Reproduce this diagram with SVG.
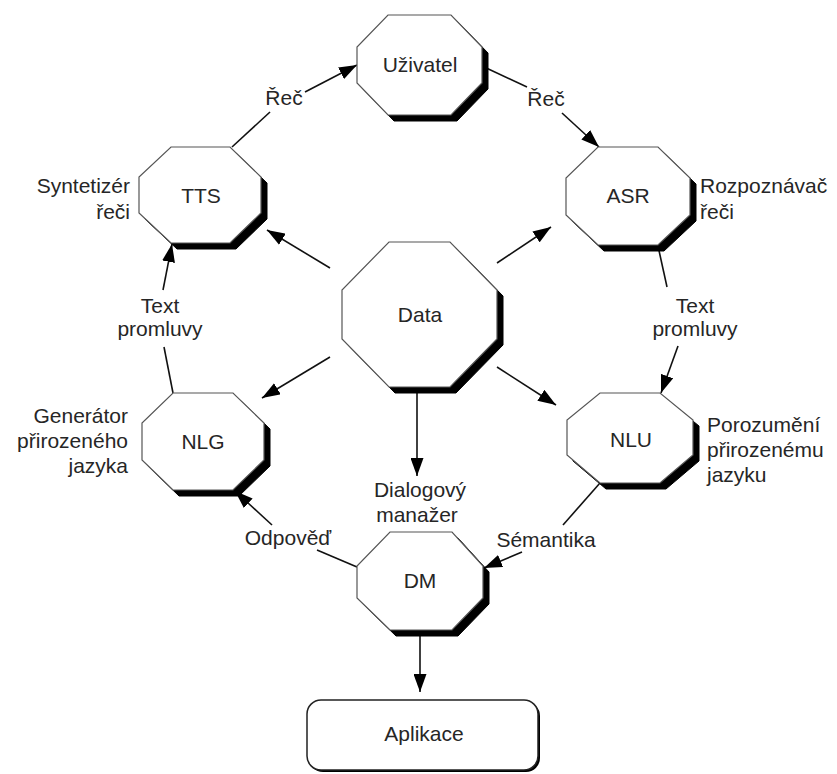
<svg xmlns="http://www.w3.org/2000/svg" width="837" height="774" viewBox="0 0 837 774">
<style>
  .oct { fill: #fff; stroke: #555; stroke-width: 1.2; }
  .sh { fill: #000; stroke: #000; stroke-width: 1; }
  .t { font-family: "Liberation Sans", Arial, sans-serif; font-size: 21px; fill: #262626; }
  .m { text-anchor: middle; }
  .e { text-anchor: end; }
  .c { stroke: #111; stroke-width: 1.6; fill: none; }
  .a { marker-end: url(#arr); }
</style>
<defs>
  <marker id="arr" markerUnits="userSpaceOnUse" markerWidth="19" markerHeight="13" refX="18" refY="6.5" orient="auto">
    <path d="M0,0 L18,6.5 L0,13 z" fill="#000"/>
  </marker>
</defs>
<rect width="837" height="774" fill="#fff"/>

<g id="connectors">
  <path class="c" d="M232,147 L270,112"/>
  <path class="c a" d="M305,92 L357,65"/>
  <path class="c" d="M482,66 L527,87"/>
  <path class="c a" d="M562,113 L599,147"/>
  <path class="c" d="M658,246 L667,287"/>
  <path class="c a" d="M678,346 L661,393"/>
  <path class="c" d="M600,483 L563,525"/>
  <path class="c a" d="M522,552 L484,568"/>
  <path class="c" d="M357,567 L317,550"/>
  <path class="c a" d="M272,525 L235,491"/>
  <path class="c" d="M173,393 L164,347"/>
  <path class="c a" d="M163,290 L172,244"/>
  <path class="c a" d="M330,268 L267,230"/>
  <path class="c a" d="M497,263 L551,227"/>
  <path class="c a" d="M330,357 L262,398"/>
  <path class="c a" d="M497,367 L556,405"/>
  <path class="c a" d="M417,393 L417,476"/>
  <path class="c a" d="M420,636 L420,692"/>
</g>

<g id="labels">
  <text class="t m" x="284" y="105">Řeč</text>
  <text class="t m" x="546" y="106">Řeč</text>
  <text class="t m" x="160" y="313">Text</text>
  <text class="t m" x="160" y="336">promluvy</text>
  <text class="t m" x="695" y="313">Text</text>
  <text class="t m" x="695" y="336">promluvy</text>
  <text class="t m" x="288" y="545">Odpověď</text>
  <text class="t m" x="546" y="547">Sémantika</text>
  <text class="t m" x="420" y="497">Dialogový</text>
  <text class="t m" x="417" y="522">manažer</text>
  <text class="t e" x="130" y="193">Syntetizér</text>
  <text class="t e" x="130" y="219">řeči</text>
  <text class="t" x="700" y="193">Rozpoznávač</text>
  <text class="t" x="700" y="219">řeči</text>
  <text class="t e" x="128" y="423">Generátor</text>
  <text class="t e" x="128" y="448">přirozeného</text>
  <text class="t e" x="128" y="473">jazyka</text>
  <text class="t" x="707" y="432">Porozumění</text>
  <text class="t" x="707" y="457">přirozenému</text>
  <text class="t" x="707" y="482">jazyku</text>
</g>

<g id="node-uzivatel">
  <polygon class="sh" transform="translate(6,6)" points="388,15 451,15 482,47 482,83 451,115 388,115 357,83 357,47"/>
  <polygon class="oct" points="388,15 451,15 482,47 482,83 451,115 388,115 357,83 357,47"/>
  <text class="t m" x="420" y="72">Uživatel</text>
</g>

<g id="node-tts">
  <polygon class="sh" transform="translate(6,6)" points="171,147 230,147 261,177 261,213 230,243 171,243 139,213 139,177"/>
  <polygon class="oct" points="171,147 230,147 261,177 261,213 230,243 171,243 139,213 139,177"/>
  <text class="t m" x="201" y="203">TTS</text>
</g>

<g id="node-asr">
  <polygon class="sh" transform="translate(6,6)" points="598,147 658,147 690,178 690,215 658,245 598,245 566,215 566,178"/>
  <polygon class="oct" points="598,147 658,147 690,178 690,215 658,245 598,245 566,215 566,178"/>
  <text class="t m" x="628" y="203">ASR</text>
</g>

<g id="node-data">
  <polygon class="sh" transform="translate(6,6)" points="389,242 450,242 497,290 497,339 450,387 389,387 342,339 342,290"/>
  <polygon class="oct" points="389,242 450,242 497,290 497,339 450,387 389,387 342,339 342,290"/>
  <text class="t m" x="420" y="322">Data</text>
</g>

<g id="node-nlg">
  <polygon class="sh" transform="translate(6,6)" points="173,393 233,393 264,423 264,460 233,490 173,490 142,460 142,423"/>
  <polygon class="oct" points="173,393 233,393 264,423 264,460 233,490 173,490 142,460 142,423"/>
  <text class="t m" x="203" y="449">NLG</text>
</g>

<g id="node-nlu">
  <polygon class="sh" transform="translate(6,6)" points="600,393 660,393 693,420 693,455 660,483 600,483 567,455 567,420"/>
  <polygon class="oct" points="600,393 660,393 693,420 693,455 660,483 600,483 567,455 567,420"/>
  <text class="t m" x="631" y="447">NLU</text>
</g>

<g id="node-dm">
  <polygon class="sh" transform="translate(6,6)" points="390,532 452,532 483,566 483,598 452,630 390,630 357,598 357,566"/>
  <polygon class="oct" points="390,532 452,532 483,566 483,598 452,630 390,630 357,598 357,566"/>
  <text class="t m" x="420" y="588">DM</text>
</g>

<g id="node-aplikace">
  <rect x="309" y="702" width="231" height="70" rx="14" fill="#000"/>
  <rect x="307" y="700" width="231" height="70" rx="14" fill="#fff" stroke="#222" stroke-width="1.5"/>
  <text class="t m" x="424" y="741">Aplikace</text>
</g>
</svg>
